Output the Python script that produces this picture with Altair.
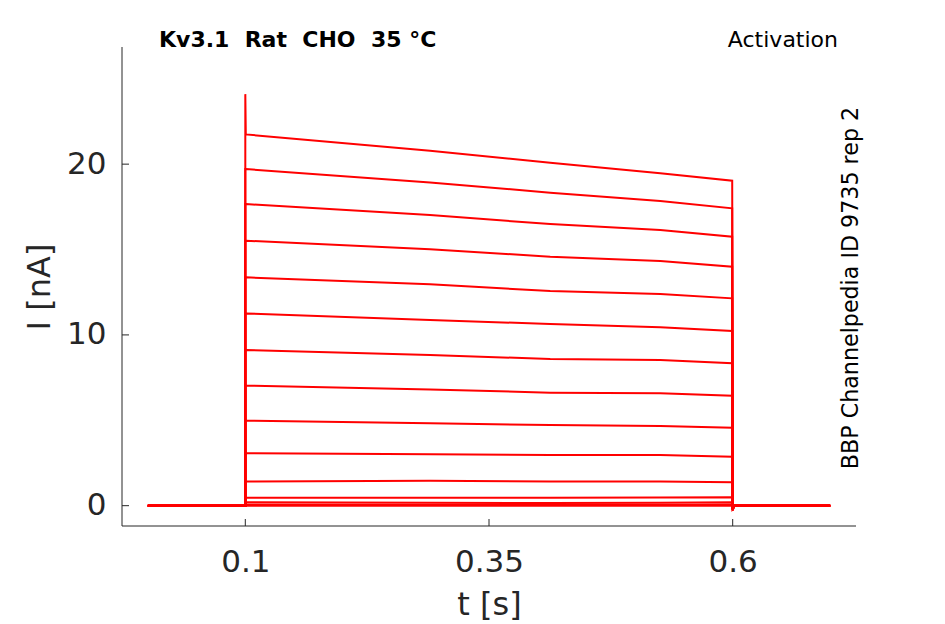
import altair as alt
import pandas as pd

# ---- data ----
# time points (s) where each trace is sampled
t_hold_start = 0.0
t_step_on = 0.1
t_level = [0.1005, 0.2895, 0.4128, 0.5257, 0.5995]
t_step_off = 0.6
t_after = 0.6015
t_hold_end = 0.7

# current (nA) of each sweep at the t_level time points
i_start = [21.74, 19.71, 17.66, 15.52, 13.37, 11.26, 9.12, 7.03, 4.98, 3.07, 1.41, 0.47, 0.20, 0.07, 0.0]
i_029 = [20.78, 18.93, 17.02, 15.01, 12.96, 10.87, 8.82, 6.81, 4.82, 3.01, 1.46, 0.47, 0.17, 0.06, 0.0]
i_041 = [20.08, 18.33, 16.49, 14.58, 12.57, 10.64, 8.59, 6.62, 4.72, 2.97, 1.41, 0.47, 0.16, 0.06, 0.0]
i_053 = [19.46, 17.84, 16.14, 14.33, 12.40, 10.45, 8.53, 6.58, 4.67, 2.97, 1.41, 0.48, 0.17, 0.06, 0.0]
i_end = [19.03, 17.41, 15.75, 13.99, 12.14, 10.23, 8.34, 6.44, 4.57, 2.87, 1.37, 0.49, 0.20, 0.07, 0.0]
# capacitive peak at step onset and tail dip at step offset
i_peak = [24.1, 19.71, 17.66, 15.52, 13.37, 11.26, 9.12, 7.03, 4.98, 3.07, 1.41, 0.47, 0.20, 0.07, 0.0]
i_dip = [-0.3, -0.25, -0.25, -0.25, -0.2, -0.2, -0.2, -0.15, -0.15, -0.1, -0.1, -0.05, 0.0, 0.0, 0.0]

x_ticks = [0.1, 0.35, 0.6]
y_ticks = [0, 10, 20]
x_domain = [-0.0265, 0.7265]
y_domain = [-1.19, 26.86]

title_text = "Kv3.1\u00a0 Rat\u00a0 CHO\u00a0 35 °C"
protocol_text = "Activation"
source_text = "BBP Channelpedia ID 9735 rep 2"

# ---- build long table ----
rows = []
for k in range(len(i_start)):
    ts = [t_hold_start, t_step_on, t_step_on] + t_level + [t_step_off, t_after, t_hold_end]
    vs = [0.0, 0.0, i_peak[k], i_start[k], i_029[k], i_041[k], i_053[k], i_end[k], i_dip[k], 0.0, 0.0]
    for j, (t, v) in enumerate(zip(ts, vs)):
        rows.append({"sweep": k, "t": t, "I": v, "idx": j})
df = pd.DataFrame(rows)

W, H = 734, 479
TICK = 7
FONT = "DejaVu Sans"
AX = "#262626"

xs = alt.Scale(domain=x_domain, nice=False, zero=False)
ys = alt.Scale(domain=y_domain, nice=False, zero=False)
x_axis = alt.Axis(values=x_ticks, format=".2~f", title="t [s]",
                  labelPadding=14, titleBaseline="alphabetic", titleY=88)
y_axis = alt.Axis(values=y_ticks, format="d", title="I [nA]",
                  labelPadding=9, titleBaseline="alphabetic", titleX=-73)

lines = alt.Chart(df).mark_line(color="#ff0000", strokeWidth=2, clip=True).encode(
    x=alt.X("t:Q", scale=xs, axis=x_axis),
    y=alt.Y("I:Q", scale=ys, axis=y_axis),
    detail="sweep:N",
    order="idx:Q",
)

one = pd.DataFrame({"a": [0]})

x_line = alt.Chart(one).mark_rule(color=AX, strokeWidth=1).encode(
    x=alt.value(0), x2=alt.value(W), y=alt.value(H))
y_line = alt.Chart(one).mark_rule(color=AX, strokeWidth=1).encode(
    x=alt.value(0), y=alt.value(0), y2=alt.value(H))

# inward-pointing tick marks placed through the shared scales
x_tick_marks = alt.Chart(pd.DataFrame({"t": x_ticks})).mark_rule(color=AX, strokeWidth=1).encode(
    x=alt.X("t:Q", scale=xs, axis=x_axis), y=alt.value(H), y2=alt.value(H - TICK))
y_tick_marks = alt.Chart(pd.DataFrame({"I": y_ticks})).mark_rule(color=AX, strokeWidth=1).encode(
    y=alt.Y("I:Q", scale=ys, axis=y_axis), x=alt.value(0), x2=alt.value(TICK))

title_mark = alt.Chart(one).mark_text(
    font=FONT, fontSize=22, fontWeight="bold", color="#000000",
    align="left", baseline="alphabetic").encode(
    x=alt.value(37), y=alt.value(0), text=alt.value(title_text))

protocol_mark = alt.Chart(one).mark_text(
    font=FONT, fontSize=22, color="#000000",
    align="right", baseline="alphabetic").encode(
    x=alt.value(716), y=alt.value(0), text=alt.value(protocol_text))

source_mark = alt.Chart(one).mark_text(
    font=FONT, fontSize=22.2, color="#000000", angle=270,
    align="center", baseline="alphabetic").encode(
    x=alt.value(736), y=alt.value(241), text=alt.value(source_text))

chart = alt.layer(lines, x_tick_marks, y_tick_marks, x_line, y_line,
                  title_mark, protocol_mark, source_mark).properties(
    width=W, height=H,
    autosize=alt.AutoSizeParams(type="none"),
    padding={"left": 114, "top": 39, "right": 70, "bottom": 97},
).configure_view(stroke=None).configure_axis(
    grid=False, domain=False, tickSize=TICK, tickOpacity=0,
    labelFont=FONT, labelFontSize=31, labelColor=AX,
    titleFont=FONT, titleFontSize=32, titleFontWeight="normal", titleColor=AX,
)

chart.save("out.html", embed_options={"renderer": "svg", "actions": False})
